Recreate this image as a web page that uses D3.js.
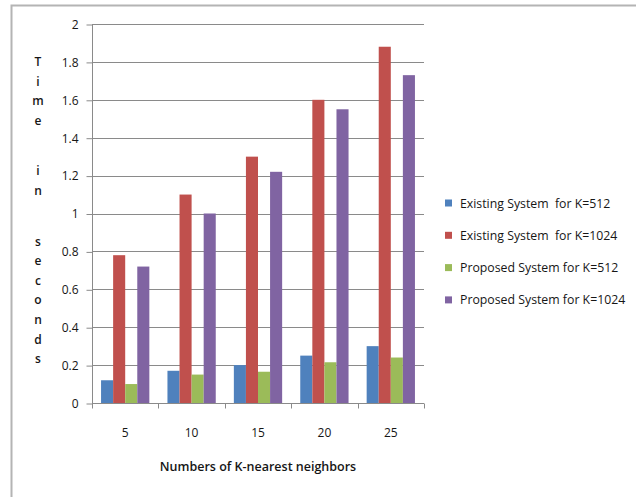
<!DOCTYPE html>
<html>
<head>
<meta charset="utf-8">
<script src="https://cdn.jsdelivr.net/npm/d3@7/dist/d3.min.js"></script>
<style>
  html, body { margin: 0; padding: 0; background: #fff; }
  svg { display: block; }
  text { font-family: "Open Sans", "Liberation Sans", sans-serif; fill: #161616; }
</style>
</head>
<body>
<svg id="chart" width="636" height="497"></svg>
<script>
// Query time (seconds) for each K-nearest-neighbour count
const categories = ["5", "10", "15", "20", "25"];
const seriesNames = [
  "Existing System  for K=512",
  "Existing System  for K=1024",
  "Proposed System for K=512",
  "Proposed System for K=1024"
];
const existing512  = [0.12, 0.17, 0.20, 0.25, 0.30];
const existing1024 = [0.78, 1.10, 1.30, 1.60, 1.88];
const proposed512  = [0.10, 0.15, 0.165, 0.215, 0.24];
const proposed1024 = [0.72, 1.00, 1.22, 1.55, 1.73];
const yTicks = [0, 0.2, 0.4, 0.6, 0.8, 1, 1.2, 1.4, 1.6, 1.8, 2];
const colors = ["#4F81BD", "#C0504D", "#9BBB59", "#8064A2"];
const yTitle = "Time in seconds";
const xTitle = "Numbers of K-nearest neighbors";

const series = [existing512, existing1024, proposed512, proposed1024];
const rows = categories.map((c, i) => ({ cat: c, values: series.map(s => s[i]) }));

const svg = d3.select("#chart");

// chart frame
svg.append("rect")
  .attr("x", 11.5).attr("y", 5.5)
  .attr("width", 700).attr("height", 600)
  .attr("fill", "none").attr("stroke", "#b4b4b4").attr("stroke-width", 2);

const plot = { left: 92, right: 424, top: 24, bottom: 403 };

const x = d3.scaleBand().domain(categories).range([plot.left, plot.right]).paddingInner(0).paddingOuter(0);
const inner = d3.scaleBand().domain(d3.range(series.length)).range([0, x.bandwidth()])
  .paddingOuter(0.75).paddingInner(0);
const y = d3.scaleLinear().domain([0, 2]).range([plot.bottom, plot.top]);

// horizontal gridlines
svg.append("g").selectAll("line").data(yTicks.filter(t => t > 0)).join("line")
  .attr("x1", plot.left).attr("x2", plot.right)
  .attr("y1", d => Math.round(y(d)) + 0.5).attr("y2", d => Math.round(y(d)) + 0.5)
  .attr("stroke", "#8a8a8a").attr("stroke-width", 1);

// bars
const groups = svg.append("g").selectAll("g").data(rows).join("g")
  .attr("transform", d => `translate(${x(d.cat)},0)`);
groups.selectAll("rect").data(d => d.values.map((v, k) => ({ v, k }))).join("rect")
  .attr("x", d => inner(d.k))
  .attr("width", inner.bandwidth())
  .attr("y", d => y(d.v))
  .attr("height", d => y(0) - y(d.v))
  .attr("fill", d => colors[d.k]);

// y axis
const yAxis = d3.axisLeft(y).tickValues(yTicks).tickSize(6).tickPadding(8)
  .tickFormat(d => d3.format("~g")(d));
const gy = svg.append("g").attr("transform", `translate(${plot.left + 0.5},0.5)`).call(yAxis);
gy.select(".domain").attr("stroke", "#8a8a8a").attr("d", `M0,${plot.top}V${plot.bottom}`);
gy.selectAll(".tick line").attr("stroke", "#8a8a8a");
gy.selectAll(".tick text").attr("font-size", 12).attr("fill", "#161616")
  .style("font-family", "'Open Sans', sans-serif");

// x axis with tick marks between categories
const gx = svg.append("g").attr("transform", `translate(0,${plot.bottom + 0.5})`);
gx.append("line").attr("x1", plot.left).attr("x2", plot.right).attr("stroke", "#8a8a8a");
const boundaries = categories.map(c => x(c)).concat([x(categories[categories.length - 1]) + x.bandwidth()]);
gx.selectAll("line.tk").data(boundaries).join("line").attr("class", "tk")
  .attr("x1", d => Math.round(d) + 0.5).attr("x2", d => Math.round(d) + 0.5)
  .attr("y1", 0).attr("y2", 5).attr("stroke", "#8a8a8a");
gx.selectAll("text").data(categories).join("text")
  .attr("x", d => x(d) + x.bandwidth() / 2).attr("y", 33)
  .attr("text-anchor", "middle").attr("font-size", 12).text(d => d);

// x axis title
svg.append("text")
  .attr("x", (plot.left + plot.right) / 2).attr("y", 471)
  .attr("text-anchor", "middle").attr("font-size", 12.5).attr("font-weight", 600)
  .text(xTitle);

// y axis title, letters stacked vertically
const yt = svg.append("text").attr("font-size", 12).attr("font-weight", 600).attr("text-anchor", "middle");
let cy = 66;
for (const ch of yTitle) {
  if (ch === " ") { cy += 31; continue; }
  yt.append("tspan").attr("x", 38).attr("y", cy).text(ch);
  cy += 19.6;
}

// legend
const legend = svg.append("g").selectAll("g").data(seriesNames).join("g")
  .attr("transform", (d, i) => `translate(445,${203 + i * 32.3})`);
legend.append("rect").attr("x", 0).attr("y", -3.5).attr("width", 7).attr("height", 7)
  .attr("fill", (d, i) => colors[i]);
legend.append("text").attr("x", 15).attr("y", 4.5).attr("font-size", 12.3)
  .attr("xml:space", "preserve").style("white-space", "pre").text(d => d);
</script>
</body>
</html>
